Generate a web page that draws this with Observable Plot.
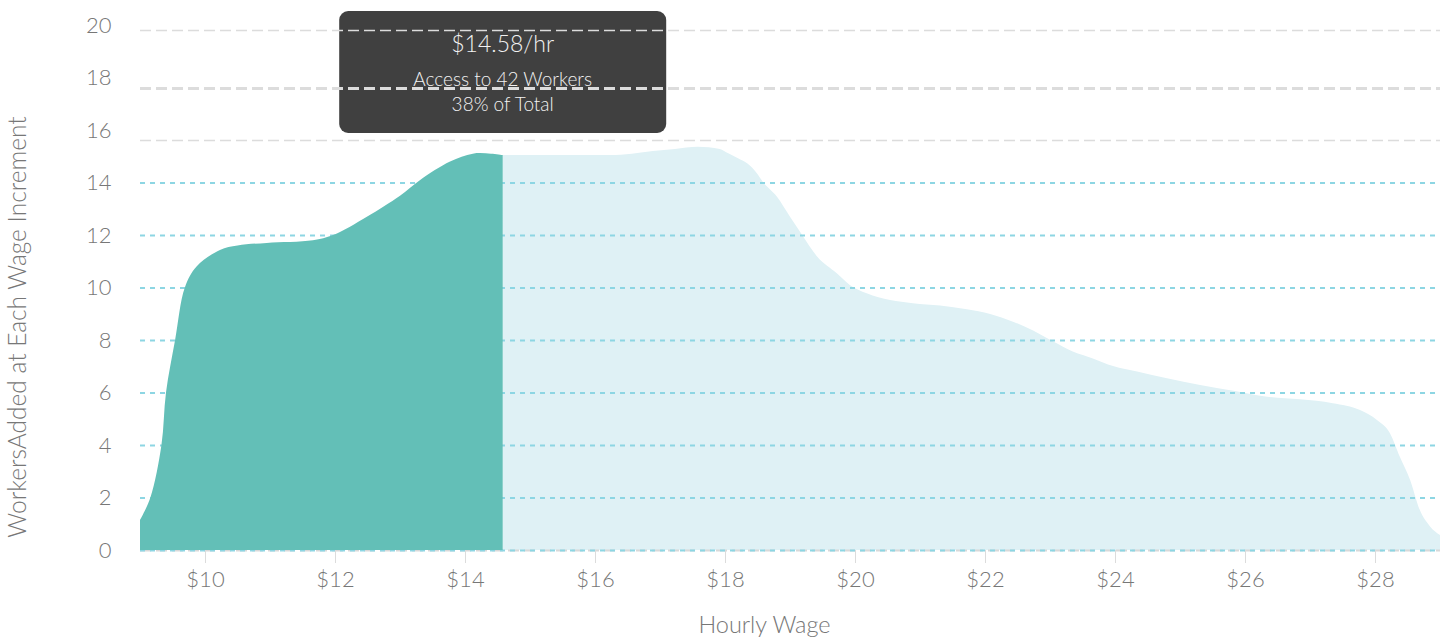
<!DOCTYPE html>
<html>
<head>
<meta charset="utf-8">
<script src="https://cdn.jsdelivr.net/npm/d3@7"></script>
<script src="https://cdn.jsdelivr.net/npm/@observablehq/plot@0.6"></script>
<style>
  html, body { margin: 0; padding: 0; background: #fff; }
  #chart svg { display: block; }
</style>
</head>
<body>
<div id="chart"></div>
<script>
// ---- data ----
const selectedWage = 14.58;
const tooltipLines = ["$14.58/hr", "Access to 42 Workers", "38% of Total"];

const leftWage    = [9.0, 9.16, 9.33, 9.4, 9.54, 9.69, 9.87, 10.23, 10.5, 10.95, 11.66, 11.97, 12.49, 13.0, 13.31, 13.77, 14.12, 14.4, 14.58];
const leftWorkers = [1.14, 2.0, 4.0, 6.0, 8.0, 10.0, 10.8, 11.43, 11.6, 11.7, 11.8, 12.0, 12.7, 13.5, 14.1, 14.8, 15.1, 15.1, 15.05];

const rightWage    = [14.58, 16.31, 16.65, 16.89, 17.23, 17.58, 17.92, 18.05, 18.2, 18.34, 18.49, 18.58, 18.8, 19.0, 19.18, 19.42, 19.72, 19.92, 20.18, 20.54, 20.89, 21.31, 21.72, 22.08, 22.43, 22.74, 23.05, 23.35, 23.66, 23.97, 24.34, 24.8, 25.31, 25.82, 26.34, 26.85, 27.35, 27.77, 28.03, 28.23, 28.38, 28.54, 28.69, 28.85, 29.0];
const rightWorkers = [15.05, 15.05, 15.12, 15.2, 15.28, 15.36, 15.28, 15.11, 14.92, 14.73, 14.35, 14.03, 13.46, 12.7, 12.03, 11.17, 10.54, 10.1, 9.78, 9.52, 9.4, 9.31, 9.17, 8.99, 8.7, 8.36, 7.94, 7.56, 7.3, 7.01, 6.8, 6.54, 6.29, 6.07, 5.84, 5.74, 5.59, 5.33, 4.95, 4.45, 3.56, 2.67, 1.52, 0.89, 0.57];

const xTicks = [10, 12, 14, 16, 18, 20, 22, 24, 26, 28];
const yTicks = [0, 2, 4, 6, 8, 10, 12, 14, 16, 18, 20];
const gridValues = [0, 2, 4, 6, 8, 10, 12, 14];
const refThin = [15.62, 19.81];
const refThick = [17.6];

const xLabel = "Hourly Wage";
const yLabel = "WorkersAdded at Each Wage Increment";

// ---- tables ----
const left = leftWage.map((w, i) => ({wage: w, workers: leftWorkers[i]}));
const right = rightWage.map((w, i) => ({wage: w, workers: rightWorkers[i]}));

const FONT = "Lato, 'Open Sans', sans-serif";
const GRAY_TEXT = "#777";

function tooltipMark(index, scales, values, dimensions) {
  const cx = scales.x(selectedWage);
  const w = 327, h = 122, top = 11;
  const g = d3.create("svg:g");
  g.append("rect")
    .attr("x", cx - w / 2).attr("y", top)
    .attr("width", w).attr("height", h)
    .attr("rx", 9).attr("ry", 9)
    .attr("fill", "#404040");
  const ys = [43, 78, 103];
  const sizes = [23, 19, 19];
  tooltipLines.forEach((t, i) => {
    g.append("text")
      .attr("x", cx).attr("y", ys[i])
      .attr("text-anchor", "middle")
      .attr("dominant-baseline", "central")
      .attr("fill", "#f2f2f2")
      .attr("font-family", FONT)
      .attr("font-weight", 300)
      .attr("font-size", sizes[i])
      .text(t);
  });
  return g.node();
}

const chart = Plot.plot({
  width: 1455,
  height: 641,
  marginLeft: 140,
  marginRight: 15,
  marginTop: 25,
  marginBottom: 91,
  style: {fontFamily: FONT, fontWeight: 300, color: GRAY_TEXT, background: "#fff"},
  x: {domain: [9, 29], label: null},
  y: {domain: [0, 20], label: null},
  marks: [
    Plot.areaY(right, {x: "wage", y: "workers", fill: "#dff1f5", curve: "monotone-x"}),
    Plot.ruleY([0], {stroke: "#d8d8d8", strokeWidth: 2, strokeDasharray: "11,5"}),
    Plot.ruleY(gridValues, {stroke: "#8dd6e3", strokeWidth: 2, strokeDasharray: "5,5"}),
    Plot.areaY(left, {x: "wage", y: "workers", fill: "#63bfb7", curve: "catmull-rom"}),
    Plot.axisX({ticks: xTicks, tickFormat: d => "$" + d, tickSize: 13, tickPadding: 8, stroke: "#dcdcdc", fontSize: 22, fill: GRAY_TEXT, label: null}),
    Plot.axisY({ticks: yTicks, tickSize: 0, tickPadding: 29, fontSize: 22, fill: GRAY_TEXT, label: null}),
    tooltipMark,
    Plot.ruleY(refThin, {stroke: "#dcdcdc", strokeWidth: 1.5, strokeDasharray: "11,5"}),
    Plot.ruleY(refThick, {stroke: "#dcdcdc", strokeWidth: 3, strokeDasharray: "11,5"}),
    Plot.text([xLabel], {frameAnchor: "bottom", dx: -26, dy: 75, fontSize: 23.5, fill: GRAY_TEXT, lineAnchor: "middle"}),
    Plot.text([yLabel], {frameAnchor: "left", dx: -122, dy: 39, rotate: -90, fontSize: 24.5, fill: GRAY_TEXT, textAnchor: "middle", lineAnchor: "middle"})
  ]
});

document.getElementById("chart").appendChild(chart);
</script>
</body>
</html>
